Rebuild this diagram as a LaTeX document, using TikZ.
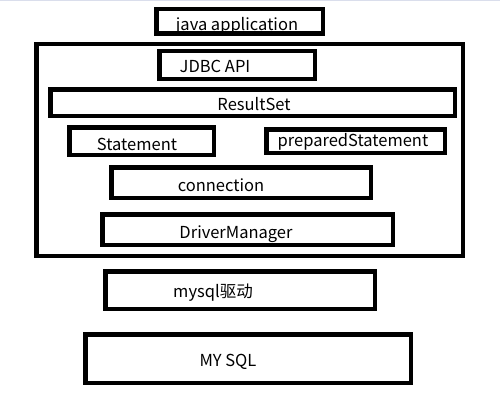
\documentclass[tikz,border=0pt]{standalone}
\usepackage{fontspec}
\setmainfont{Noto Sans CJK SC}
\usepackage{tikz}
\tikzset{frame/.style={draw,line width=4.5pt,rectangle,inner sep=0pt}}
\tikzset{layer/.style={frame}}
\tikzset{caption/.style={anchor=base,inner sep=0pt,font=\fontsize{16.5}{18}\selectfont}}

\begin{document}
\begin{tikzpicture}[x=1pt,y=-1pt]
    \useasboundingbox (0,0) rectangle (500,404);
    \draw[line width=1.5pt,color={rgb,255:red,218;green,222;blue,236}] (0,0.75) -- (500,0.75);
    % outer JDBC frame
    \node[frame,minimum width=426.5pt,minimum height=211.5pt] (jdbc) at (249.5,150) {};
    % layers: name / left / top / right / bottom / text x / baseline / text
    \foreach \n/\xa/\ya/\xb/\yb/\tx/\ty/\t in {%
        app/154/7/325/36/237/31/java application,
        api/157/49/317/81/215/72.7/JDBC API,
        rs/48/87/457/118/254/110/ResultSet,
        stmt/67/125/216/157/137/150/Statement,
        pstmt/264/127/447/155/353/146.7/preparedStatement,
        conn/109/165/373/200/221/191/connection,
        dm/100/212/395/247/236/238.3/DriverManager,
        drv/103/269/377/311/213/297.7/mysql驱动,
        db/83/332/413/385/228/366/MY SQL}{%
          \node[layer,minimum width={(\xb-\xa-4.5)*1pt},
                minimum height={(\yb-\ya-4.5)*1pt}]
                (\n) at ({(\xa+\xb)/2},{(\ya+\yb)/2}) {};
          \node[caption] (\n-t) at (\tx,\ty) {\t};
        }
\end{tikzpicture}
\end{document}
